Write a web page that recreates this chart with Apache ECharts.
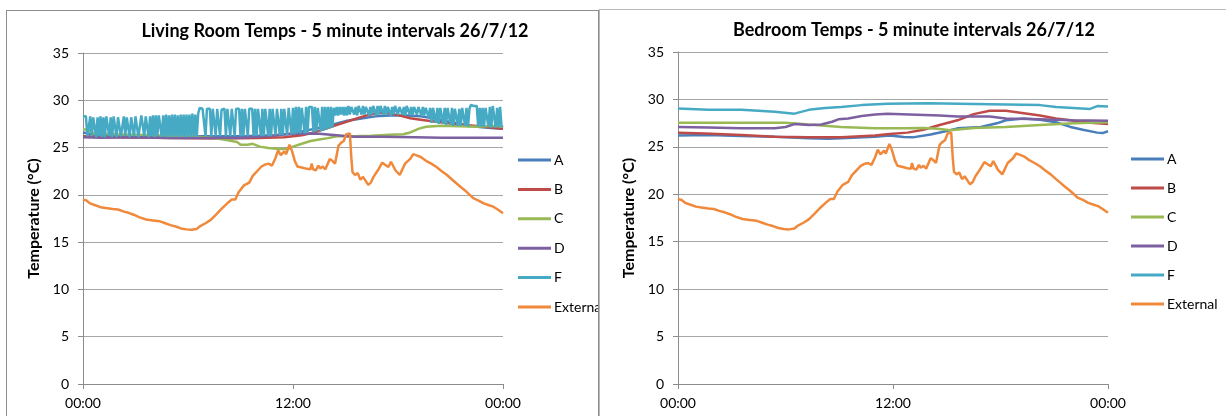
<!DOCTYPE html>
<html>
<head>
<meta charset="utf-8">
<script src="https://cdn.jsdelivr.net/npm/echarts@6/dist/echarts.min.js"></script>
<style>
html,body{margin:0;padding:0;background:#fff;width:1226px;height:416px;overflow:hidden;position:relative;}
.c{position:absolute;}
.b{position:absolute;pointer-events:none;box-sizing:border-box;}
</style>
</head>
<body>
<div id="c1" class="c" style="left:6px;top:10px;width:592px;height:406px;"></div>
<div id="c2" class="c" style="left:599px;top:9px;width:627px;height:407px;"></div>
<div class="b" style="left:6px;top:10px;width:593px;height:420px;border:1px solid #8c8c8c;border-bottom:none;"></div>
<div class="b" style="left:599px;top:9px;width:700px;height:420px;border-left:1px solid #b8b8b8;border-top:1px solid #b8b8b8;"></div>
<script>
// ---- data ----
const seriesNames = ['A', 'B', 'C', 'D', 'F', 'External'];
const xTickLabels = ['00:00', '12:00', '00:00'];

// External temperature (shared by both charts) [hour, °C]
const external = [[0,19.5],[0.2,19.4],[0.4,19.1],[0.7,18.9],[1.0,18.7],[1.3,18.6],[1.7,18.5],[2.0,18.45],[2.3,18.25],[2.6,18.1],[2.9,17.9],[3.2,17.65],[3.6,17.4],[4.0,17.3],[4.4,17.2],[4.7,17.0],[5.0,16.8],[5.3,16.65],[5.6,16.45],[5.9,16.35],[6.2,16.3],[6.5,16.4],[6.7,16.7],[7.0,17.0],[7.3,17.35],[7.6,17.9],[7.9,18.5],[8.3,19.2],[8.5,19.5],[8.7,19.5],[8.9,20.3],[9.2,21.0],[9.5,21.3],[9.7,22.0],[10.0,22.6],[10.2,23.0],[10.4,23.2],[10.6,23.3],[10.8,23.1],[11.0,23.9],[11.15,24.7],[11.3,24.2],[11.5,24.6],[11.6,24.3],[11.8,25.3],[11.95,24.6],[12.1,23.6],[12.25,23.0],[12.5,22.9],[12.8,22.75],[13.0,22.7],[13.06,23.3],[13.15,22.7],[13.3,22.6],[13.45,23.1],[13.55,22.8],[13.7,23.0],[13.85,22.7],[14.1,23.8],[14.25,23.6],[14.4,23.3],[14.6,25.2],[14.75,25.5],[14.9,25.7],[15.05,26.4],[15.25,26.5],[15.33,24.0],[15.4,22.4],[15.55,22.1],[15.7,22.3],[15.85,21.6],[16.0,21.9],[16.1,21.7],[16.3,21.05],[16.45,21.3],[16.6,21.9],[16.85,22.6],[17.1,23.4],[17.2,23.3],[17.45,22.95],[17.6,23.5],[17.85,22.6],[18.1,22.1],[18.4,23.3],[18.7,23.8],[18.87,24.3],[19.1,24.15],[19.3,24.0],[19.6,23.6],[19.9,23.3],[20.2,22.95],[20.5,22.5],[20.8,22.1],[21.1,21.6],[21.35,21.2],[21.6,20.8],[21.9,20.35],[22.1,20.0],[22.3,19.65],[22.6,19.4],[22.9,19.1],[23.2,18.9],[23.45,18.75],[23.7,18.45],[24,18.05]];

// Living room [hour, °C]
const livA = [[0,26.6],[0.5,26.4],[1,26.3],[3,26.2],[6,26.2],[9,26.2],[11,26.3],[12,26.5],[12.5,26.7],[13,26.9],[14,27.3],[15,27.8],[16,28.1],[16.7,28.3],[17.5,28.4],[18.5,28.4],[19.3,28.3],[20,28.1],[20.7,27.8],[21.3,27.6],[22,27.3],[22.8,27.15],[23.5,27.05],[24,27.0]];
const livB = [[0,26.2],[2,26.1],[5,26.0],[8,25.95],[10,26.0],[11.5,26.1],[12.5,26.3],[13.2,26.6],[14,27.1],[14.7,27.5],[15.5,28.0],[16.2,28.4],[16.8,28.65],[17.4,28.65],[18.0,28.45],[18.7,28.1],[19.5,27.9],[20.3,27.7],[21.0,27.55],[22,27.35],[23,27.2],[24,27.0]];
const livC = [[0,26.9],[0.3,26.9],[0.6,26.5],[2,26.4],[4,26.3],[6,26.2],[7.5,26.0],[8.2,25.8],[8.8,25.6],[9.0,25.3],[9.4,25.3],[9.7,25.4],[10.1,25.1],[10.6,24.95],[11.2,24.85],[11.7,24.85],[12.0,25.1],[12.5,25.4],[13.0,25.7],[13.5,25.85],[14,26.0],[14.5,26.2],[15.5,26.2],[16.5,26.25],[17.5,26.35],[18.3,26.4],[18.7,26.6],[19.2,27.0],[19.6,27.2],[20.5,27.3],[21.5,27.25],[22.5,27.2],[23.5,27.3],[24,27.2]];
const livD = [[0,26.1],[1,26.05],[3,26.1],[5,26.0],[7,26.0],[9,26.05],[10.5,26.2],[11.5,26.4],[12.5,26.5],[13.5,26.45],[14.5,26.3],[15.5,26.15],[17,26.15],[19,26.1],[20.5,26.05],[22,26.05],[24,26.05]];
// Living room F, 5-minute readings (one row per hour)
const livF = [
 28.3,28.3,28.3,26.2,26.1,28.3,26.2,28.2,28.3,26.1,28.2,26.2,
 28.3,26.1,28.2,26.1,28.3,28.3,26.2,28.2,26.1,28.3,28.2,26.1,
 28.2,28.3,26.2,26.1,28.3,26.2,28.2,28.3,26.1,28.2,28.3,26.2,
 28.3,28.3,26.1,26.2,28.4,28.3,26.2,28.3,28.4,26.1,28.3,26.2,
 28.4,26.1,28.4,26.2,28.4,28.5,26.1,28.4,26.2,28.5,26.1,28.4,
 26.2,28.5,26.1,28.5,26.2,28.4,26.1,28.5,26.2,28.5,26.1,28.5,
 26.2,28.5,26.1,28.6,26.2,28.5,26.1,28.6,29.2,29.2,29.1,29.1,
 26.2,29.1,29.1,29.1,26.2,29.1,29.1,26.2,29.1,29.1,26.2,29.0,
 29.1,29.1,26.2,29.1,29.1,26.2,29.1,29.1,26.2,29.1,29.1,29.1,
 26.2,29.1,26.2,29.1,29.1,26.2,29.1,29.1,29.1,26.2,29.1,26.2,
 29.1,29.1,26.2,29.1,26.2,29.1,29.1,26.2,29.1,26.2,29.1,29.1,
 26.3,29.1,29.1,26.3,29.1,26.3,29.1,29.1,26.3,29.2,29.2,26.4,
 29.2,26.4,29.3,26.5,29.3,26.5,29.2,29.3,26.5,29.3,26.6,29.3,
 29.3,29.3,26.6,29.3,26.7,29.2,29.3,26.7,29.3,26.8,29.3,26.9,
 29.3,27.0,29.3,27.1,29.2,28.4,29.3,28.4,29.3,28.5,29.3,28.4,
 29.3,28.4,29.4,28.5,29.3,29.4,28.5,29.3,28.4,29.4,29.3,28.5,
 29.4,28.5,29.3,29.4,28.4,29.3,28.5,29.4,29.3,28.4,29.4,28.5,
 29.4,29.3,28.5,29.4,28.5,29.3,29.4,28.4,29.3,28.5,29.4,29.3,
 28.5,29.3,29.4,28.5,29.3,28.4,29.4,29.3,28.5,29.3,28.4,29.3,
 29.3,28.5,29.3,29.2,28.4,29.3,28.4,29.2,29.3,28.2,29.2,27.6,
 29.2,29.2,27.6,29.2,27.5,29.2,29.1,27.5,29.2,27.4,29.2,29.1,
 27.4,29.2,27.3,29.1,29.2,27.3,29.1,27.3,29.2,29.1,27.3,29.2,
 27.2,29.1,29.5,29.5,29.4,29.5,29.4,27.2,29.2,27.2,29.2,27.2,
 29.2,29.1,27.2,29.3,27.1,29.4,29.3,27.1,29.2,27.2,29.3,27.2,
 27.3];

// Bedroom [hour, °C]
const bedA = [[0,26.2],[1.7,26.25],[3.5,26.15],[5.4,26.07],[7.3,25.9],[8.4,25.85],[9.1,25.9],[11,26.07],[11.8,26.2],[12.6,26.05],[13.1,26.0],[14.1,26.3],[15.0,26.67],[15.6,26.95],[16.9,27.1],[17.8,27.48],[18.3,27.8],[19.3,28.0],[20.2,27.85],[21.1,27.6],[21.9,27.1],[22.6,26.8],[23.4,26.5],[23.7,26.45],[24,26.65]];
const bedB = [[0,26.5],[1.5,26.4],[3.55,26.25],[5.4,26.07],[7.3,26.0],[9.1,26.0],[11,26.2],[11.8,26.35],[12.8,26.5],[13.7,26.8],[14.6,27.3],[15.6,27.8],[16.5,28.45],[17.4,28.8],[18.3,28.8],[19.3,28.55],[20.2,28.3],[21.1,28.0],[22.1,27.75],[23,27.55],[24,27.4]];
const bedC = [[0,27.55],[3,27.55],[6,27.55],[7.3,27.35],[9.1,27.1],[11,26.95],[12.5,26.95],[13.7,27.0],[14.5,26.9],[15.2,26.75],[16.5,27.0],[18.3,27.1],[20.2,27.3],[22.1,27.5],[24,27.6]];
const bedD = [[0,27.1],[1.7,27.05],[3.5,26.95],[5.4,26.95],[6,27.1],[6.5,27.4],[7.3,27.3],[8.0,27.35],[8.6,27.65],[8.95,27.9],[9.5,28.0],[10.25,28.25],[11,28.4],[11.7,28.5],[12.5,28.45],[14.6,28.3],[15.6,28.2],[17.4,28.2],[18.3,28.0],[20.2,27.9],[22,27.8],[24,27.75]];
const bedF = [[0,29.05],[1.7,28.9],[3.55,28.9],[5.4,28.7],[6.5,28.5],[7.3,28.9],[8.2,29.1],[9.1,29.2],[10.25,29.4],[11.7,29.55],[14,29.6],[17.4,29.5],[20.2,29.4],[21.1,29.2],[23,29.0],[23.4,29.3],[24,29.25]];

// ---- styling ----
const colors = ['#4A7EBB', '#BE4B48', '#98B954', '#7D60A0', '#46AAC5', '#F0893B'];
const FONT = 'Lato, "Open Sans", "Liberation Sans", sans-serif';

function makeOption(cfg) {
  const datasets = cfg.data;
  return {
    animation: false,
    textStyle: { fontFamily: FONT },
    title: {
      text: cfg.title,
      left: cfg.titleX, top: 12, textAlign: 'center', padding: 0,
      textStyle: { fontFamily: FONT, fontSize: 18, fontWeight: 'bold', color: '#000' }
    },
    legend: {
      orient: 'vertical', left: cfg.legendX, top: 137,
      icon: 'rect', itemWidth: 33, itemHeight: 3, itemGap: cfg.legendGap,
      data: seriesNames,
      textStyle: { fontFamily: FONT, fontSize: 14, lineHeight: 16, color: '#000', padding: [0, 0, 0, -2] }
    },
    grid: { left: cfg.gridLeft, top: 43, width: cfg.gridW, height: cfg.gridH, containLabel: false },
    xAxis: {
      type: 'value', min: 0, max: 24, interval: 12,
      axisLine: { show: true, lineStyle: { color: '#8c8c8c', width: 1 } },
      axisTick: { show: true, length: 5, lineStyle: { color: '#8c8c8c' } },
      splitLine: { show: false },
      axisLabel: {
        margin: 12, fontSize: 14, color: '#000', fontFamily: FONT,
        formatter: v => xTickLabels[Math.round(v / 12)]
      }
    },
    yAxis: {
      type: 'value', min: 0, max: 35, interval: 5,
      name: 'Temperature (°C)', nameLocation: 'middle', nameRotate: 90, nameGap: 31,
      nameTextStyle: { fontFamily: FONT, fontSize: 16, fontWeight: 'bold', color: '#000' },
      axisLine: { show: true, lineStyle: { color: '#8c8c8c', width: 1 } },
      axisTick: { show: true, length: 5, lineStyle: { color: '#8c8c8c' } },
      splitLine: { show: true, lineStyle: { color: '#a6a6a6', width: 1 } },
      axisLabel: { margin: 14, fontSize: 14, color: '#000', fontFamily: FONT }
    },
    series: seriesNames.map((n, i) => ({
      name: n, type: 'line', data: datasets[i],
      symbol: 'none', showSymbol: false, smooth: false,
      lineStyle: { width: 2.5, color: colors[i] },
      itemStyle: { color: colors[i] }
    }))
  };
}

const livFPairs = livF.map((v, i) => [i / 12, v]);

const chart1 = echarts.init(document.getElementById('c1'), null, { renderer: 'canvas' });
chart1.setOption(makeOption({
  title: 'Living Room Temps - 5 minute intervals 26/7/12',
  titleX: 329, legendX: 507, legendGap: 13.4,
  gridLeft: 77, gridW: 420, gridH: 331,
  data: [livA, livB, livC, livD, livFPairs, external]
}));

const chart2 = echarts.init(document.getElementById('c2'), null, { renderer: 'canvas' });
chart2.setOption(makeOption({
  title: 'Bedroom Temps - 5 minute intervals 26/7/12',
  titleX: 315, legendX: 527, legendGap: 13,
  gridLeft: 79, gridW: 430, gridH: 332,
  data: [bedA, bedB, bedC, bedD, bedF, external]
}));
</script>
</body>
</html>
